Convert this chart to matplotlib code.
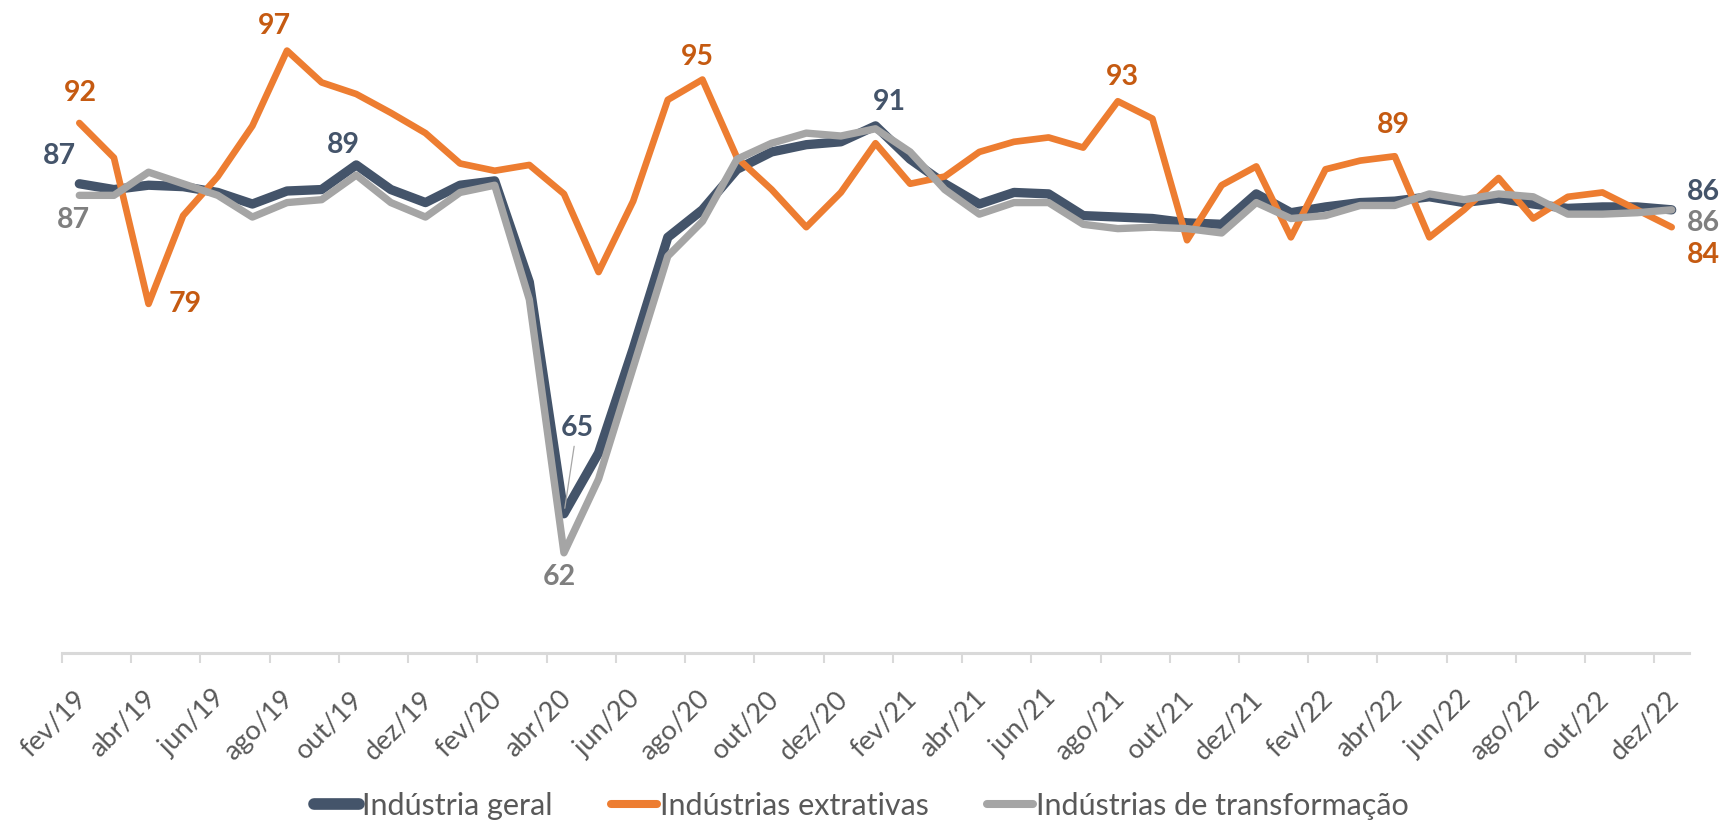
import numpy as np
import matplotlib
matplotlib.use('Agg')
import matplotlib.pyplot as plt
from matplotlib.lines import Line2D
from matplotlib.transforms import ScaledTranslation

# meses de fev/19 a dez/22
meses = ['jan', 'fev', 'mar', 'abr', 'mai', 'jun', 'jul', 'ago', 'set', 'out', 'nov', 'dez']
anos = ['19', '20', '21', '22']
periodos = [f'{m}/{a}' for a in anos for m in meses][1:]

geral = [87.4, 87.0, 87.3, 87.2, 86.8, 86.0, 86.9, 87.0, 88.7, 87.0, 86.1, 87.3,
         87.6, 80.6, 64.6, 68.8, 76.0, 83.7, 85.6, 88.4, 89.6, 90.1, 90.3, 91.4,
         89.1, 87.4, 86.0, 86.8, 86.7, 85.2, 85.1, 85.0, 84.7, 84.6, 86.7, 85.4,
         85.8, 86.1, 86.2, 86.5, 86.1, 86.4, 86.0, 85.7, 85.8, 85.8, 85.6]
extrativas = [91.6, 89.2, 79.1, 85.2, 87.9, 91.4, 96.6, 94.4, 93.6, 92.3, 90.9, 88.8,
              88.3, 88.7, 86.7, 81.3, 86.2, 93.2, 94.6, 89.2, 87.0, 84.4, 86.8, 90.2,
              87.4, 87.9, 89.6, 90.3, 90.6, 89.9, 93.1, 91.9, 83.5, 87.3, 88.6, 83.7,
              88.4, 89.0, 89.3, 83.7, 85.6, 87.8, 85.0, 86.5, 86.8, 85.6, 84.4]
transformacao = [86.6, 86.6, 88.2, 87.4, 86.6, 85.1, 86.1, 86.3, 88.0, 86.1, 85.1, 86.8,
                 87.3, 79.4, 61.9, 67.0, 74.7, 82.4, 84.8, 89.1, 90.2, 90.9, 90.7, 91.2,
                 89.6, 87.0, 85.3, 86.1, 86.1, 84.6, 84.3, 84.4, 84.3, 84.0, 86.1, 85.0,
                 85.2, 85.9, 85.9, 86.7, 86.3, 86.7, 86.5, 85.3, 85.3, 85.4, 85.6]

# nome, dados, cor da linha, espessura, cor do rótulo, espessura na legenda
series = [
    ('Indústria geral', geral, '#44546A', 6.7, '#44546A', 8.4),
    ('Indústrias extrativas', extrativas, '#ED7D31', 4.8, '#C55A11', 5.8),
    ('Indústrias de transformação', transformacao, '#A5A5A5', 5.3, '#7F7F7F', 5.8),
]

# rótulos: (série, ponto, deslocamento x, deslocamento y em pixels)
rotulos = [
    (0, 0, -20, 28), (1, 0, 1, 30), (2, 0, -6, -25),
    (1, 2, 37, 0), (1, 6, -13, 25), (0, 8, -13, 20),
    (2, 14, -5, -24), (1, 18, -5, 23), (0, 23, 14, 24),
    (1, 30, 5, 24), (1, 38, -1, 31),
    (0, 46, 32, 18), (2, 46, 32, -13), (1, 46, 32, -28),
]

plt.rcParams['font.family'] = ['Lato', 'DejaVu Sans']

fig = plt.figure(figsize=(17.22, 8.26), dpi=100)
ax = fig.add_axes([62 / 1722, 1 - 652.7 / 826, 1627 / 1722, 651.3 / 826])
x = np.arange(len(periodos))

for nome, dados, cor, lw, _, _ in series:
    ax.plot(x, dados, color=cor, lw=lw, solid_capstyle='round',
            solid_joinstyle='round', label=nome)

for s, i, dx, dy in rotulos:
    dados, cor_txt = series[s][1], series[s][4]
    ax.annotate(f'{dados[i]:.0f}', (i, dados[i]), xytext=(dx, dy),
                textcoords='offset pixels', ha='center', va='center',
                fontsize=20.5, fontweight='bold', color=cor_txt, annotation_clip=False)

# rótulo da queda de abr/20 com linha de chamada
ax.annotate(f'{geral[14]:.0f}', (14, geral[14]), xytext=(13, 86),
            textcoords='offset pixels', ha='center', va='center',
            fontsize=20.5, fontweight='bold', color='#44546A',
            arrowprops=dict(arrowstyle='-', color='#A6A6A6', lw=0.9,
                            shrinkA=2, shrinkB=4))

ax.set_xlim(-0.5, len(periodos) - 0.5)
ax.set_ylim(55, 100)
ax.set_yticks([])
for lado in ['top', 'right', 'left']:
    ax.spines[lado].set_visible(False)
ax.spines['bottom'].set_color('#D9D9D9')
ax.spines['bottom'].set_linewidth(2.2)

ax.set_xticks(x[::2])
ax.set_xticklabels(periodos[::2], rotation=45, ha='right', va='top',
                   rotation_mode='anchor', fontsize=19.5, color='#595959')
ax.set_xticks(np.arange(-0.5, len(periodos) - 0.5, 2), minor=True)
ax.tick_params(axis='x', which='major', length=0, pad=24)
ax.tick_params(axis='x', which='minor', length=7.2, width=1.5, color='#D9D9D9')
desloc = ScaledTranslation(-6 / 100, 0, fig.dpi_scale_trans)
for rot in ax.get_xticklabels():
    rot.set_transform(rot.get_transform() + desloc)

handles = [Line2D([], [], color=c, lw=lwl, solid_capstyle='round')
           for _, _, c, _, _, lwl in series]
fig.legend(handles, [s[0] for s in series], loc='lower center',
           bbox_to_anchor=(0.5, -0.011), ncol=3, frameon=False, fontsize=22,
           handlelength=1.5, handletextpad=0.1, columnspacing=1.9,
           borderpad=0, labelcolor='#595959')

fig.savefig('out.png', dpi=100)
